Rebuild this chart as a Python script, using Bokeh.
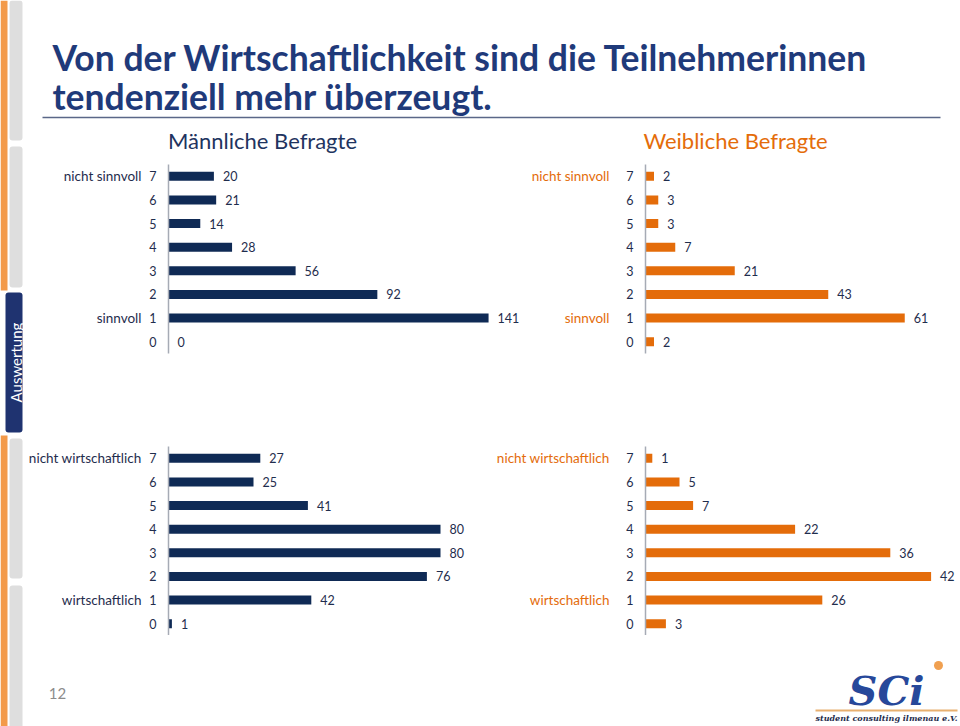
from bokeh.plotting import figure
from bokeh.layouts import row, column
from bokeh.models import Range1d, FixedTicker, LinearAxis, ColumnDataSource
from bokeh.core.properties import value
from bokeh.embed import file_html
from bokeh.resources import INLINE

# ---------------- data ----------------
levels = [0, 1, 2, 3, 4, 5, 6, 7]
male_sinnvoll = [0, 141, 92, 56, 28, 14, 21, 20]
female_sinnvoll = [2, 61, 43, 21, 7, 3, 3, 2]
male_wirtschaftlich = [1, 42, 76, 80, 80, 41, 25, 27]
female_wirtschaftlich = [3, 26, 42, 36, 22, 7, 5, 1]
title_lines = ["Von der Wirtschaftlichkeit sind die Teilnehmerinnen",
               "tendenziell mehr überzeugt."]
group_titles = ["Männliche Befragte", "Weibliche Befragte"]
words_sinnvoll = {7: "nicht sinnvoll", 1: "sinnvoll"}
words_wirtschaftlich = {7: "nicht wirtschaftlich", 1: "wirtschaftlich"}
side_label = "Auswertung"
page_number = "12"
logo_text = "SCi"
logo_sub = "student consulting ilmenau e.V."

# ---------------- styles ----------------
FONT = "Lato"
NAVY_BAR = "#0F2A55"
ORANGE = "#E46C0A"
TXT = "#1F2D4D"
TITLE_BLUE = "#1F3A7A"
AXIS_GREY = "#A6ABB5"
NUM_SIZE = "12.5px"
WORD_SIZE = "13.5px"


def base_fig(w, h, xr, yr):
    p = figure(width=w, height=h, output_backend="svg", toolbar_location=None,
               x_range=Range1d(*xr), y_range=Range1d(*yr),
               x_axis_location=None, y_axis_location=None,
               min_border_left=0, min_border_right=0, min_border_top=0, min_border_bottom=0)
    p.outline_line_color = None
    p.grid.visible = False
    p.background_fill_color = "white"
    p.border_fill_color = "white"
    return p


def chart(vals, words, bar_color, word_color, w, h, border_left, border_bottom, xmax,
          word_standoff, digit_standoff):
    p = figure(width=w, height=h, output_backend="svg", toolbar_location=None,
               x_range=Range1d(0, xmax), y_range=Range1d(-0.5, 7.5),
               x_axis_location=None, y_axis_location=None,
               min_border_left=border_left, min_border_right=0,
               min_border_top=0, min_border_bottom=border_bottom)
    p.outline_line_color = None
    p.grid.visible = False
    ax = LinearAxis(ticker=FixedTicker(ticks=levels),
                    axis_line_color=AXIS_GREY, axis_line_width=1.5,
                    major_tick_line_color=None, minor_tick_line_color=None,
                    major_tick_out=0, major_tick_in=0, minor_tick_out=0, minor_tick_in=0,
                    major_label_standoff=digit_standoff,
                    major_label_text_font=FONT, major_label_text_font_size=NUM_SIZE,
                    major_label_text_color=TXT)
    p.add_layout(ax, "left")
    ax2 = LinearAxis(ticker=FixedTicker(ticks=sorted(words)),
                     axis_line_color=None,
                     major_tick_line_color=None, minor_tick_line_color=None,
                     major_tick_out=0, major_tick_in=0, minor_tick_out=0, minor_tick_in=0,
                     major_label_standoff=word_standoff,
                     major_label_overrides={k: wd for k, wd in words.items()},
                     major_label_text_font=FONT, major_label_text_font_size=WORD_SIZE,
                     major_label_text_color=word_color)
    p.add_layout(ax2, "left")
    src = ColumnDataSource(dict(y=levels, v=vals, lbl=[str(v) for v in vals]))
    p.hbar(y="y", left=0, right="v", height=0.38, source=src,
           fill_color=bar_color, line_color=None)
    p.text(x="v", y="y", text="lbl", source=src, x_offset=9,
           text_baseline="middle", text_align="left",
           text_font=value(FONT), text_font_size=NUM_SIZE, text_color=TXT)
    return p


# ---------------- sidebar ----------------
side = base_fig(24, 726, (0, 24), (726, 0))
side.quad(left=[0, 0], right=[7, 7], top=[0, 435], bottom=[290, 726],
          fill_color="#F39A4A", line_color=None)
side.quad(left=[9, 9, 9, 9], right=[22, 22, 22, 22],
          top=[0, 146, 438, 585], bottom=[140, 287, 578, 730],
          fill_color="#DEDEDE", line_color=None, border_radius=3)
side.quad(left=[5], right=[22], top=[292], bottom=[432],
          fill_color="#1F3370", line_color=None, border_radius=3)
side.text(x=[15], y=[362], text=[side_label], angle=1.5707963,
          text_align="center", text_baseline="middle",
          text_font=value(FONT), text_font_size="15px", text_color="white")

# ---------------- header ----------------
head = base_fig(936, 164, (24, 960), (164, 0))
head.text(x=[52, 52], y=[57, 96], text=title_lines,
          text_align="left", text_baseline="middle",
          text_font=value(FONT), text_font_style="bold", text_font_size="35.5px",
          text_color=TITLE_BLUE)
head.segment(x0=[42], y0=[117], x1=[940], y1=[117], line_color="#5A6788", line_width=1.5)
head.text(x=[262], y=[140], text=[group_titles[0]], text_align="center",
          text_baseline="middle", text_font=value(FONT), text_font_size="22px",
          text_color="#1F3460")
head.text(x=[735], y=[140], text=[group_titles[1]], text_align="center",
          text_baseline="middle", text_font=value(FONT), text_font_size="22px",
          text_color=ORANGE)

# ---------------- charts ----------------
tl = chart(male_sinnvoll, words_sinnvoll, NAVY_BAR, TXT, 496, 282, 144, 93,
           352 / 2.27, 5, 12)
tr = chart(female_sinnvoll, words_sinnvoll, ORANGE, ORANGE, 440, 282, 125, 93,
           315 / 4.25, 14, 12)
bl = chart(male_wirtschaftlich, words_wirtschaftlich, NAVY_BAR, TXT, 461, 189, 144, 0,
           317 / 3.4, 5, 12)
br = chart(female_wirtschaftlich, words_wirtschaftlich, ORANGE, ORANGE, 475, 189, 160, 0,
           315 / 6.8, 14, 12)

# ---------------- footer ----------------
foot = base_fig(936, 91, (24, 960), (726, 635))
foot.text(x=[57], y=[693], text=[page_number], text_align="center", text_baseline="middle",
          text_font=value(FONT), text_font_size="15px", text_color="#8C8C8C")
foot.text(x=[886], y=[690], text=[logo_text], text_align="center", text_baseline="middle",
          text_font=value("DejaVu Serif"), text_font_style="bold italic",
          text_font_size="40px", text_color="#27489A")
foot.scatter(x=[938], y=[665], size=9, fill_color="#F0A050", line_color=None)
foot.segment(x0=[815], y0=[710], x1=[957], y1=[710], line_color="#E8B070", line_width=2)
foot.text(x=[886], y=[717], text=[logo_sub], text_align="center", text_baseline="middle",
          text_font=value("DejaVu Serif"), text_font_style="bold italic",
          text_font_size="8px", text_color="#1F2D4D")

layout = row(side, column(head, row(tl, tr), row(bl, br), foot))

open("out.html", "w").write(file_html(layout, INLINE))
